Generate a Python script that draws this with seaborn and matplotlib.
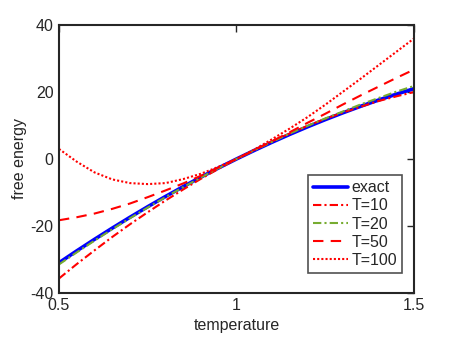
import numpy as np
import pandas as pd
import matplotlib
matplotlib.use('Agg')
import matplotlib.pyplot as plt
import seaborn as sns


# values, x step 0.05
temperature = [0.5, 0.55, 0.6, 0.65, 0.7, 0.75, 0.8, 0.85, 0.9, 0.95, 1.0,
               1.05, 1.1, 1.15, 1.2, 1.25, 1.3, 1.35, 1.4, 1.45, 1.5]

exact = [-31.0, -27.45, -24.0, -20.65, -17.4, -14.25, -11.2, -8.25, -5.4, -2.65, 0.0,
         2.55, 5.0, 7.35, 9.6, 11.75, 13.8, 15.75, 17.6, 19.35, 21.0]
t10 = [-35.7, -31.4, -27.3, -23.3, -19.5, -15.9, -12.4, -9.1, -5.9, -2.9, 0.0,
       2.7, 5.3, 7.6, 9.9, 12.0, 13.9, 15.6, 17.3, 18.7, 20.0]
t20 = [-31.5, -27.9, -24.4, -21.0, -17.7, -14.5, -11.4, -8.4, -5.5, -2.7, 0.0,
       2.6, 5.1, 7.6, 9.9, 12.1, 14.2, 16.3, 18.2, 20.1, 21.8]
t50 = [-18.3, -17.4, -16.3, -14.9, -13.3, -11.4, -9.4, -7.3, -5.0, -2.5, 0.0,
       2.6, 5.3, 8.0, 10.8, 13.5, 16.3, 19.0, 21.6, 24.2, 26.7]
t100 = [3.0, -0.8, -4.0, -6.1, -7.2, -7.5, -7.2, -6.0, -4.4, -2.3, 0.0,
        2.8, 5.9, 9.1, 12.5, 16.2, 20.1, 24.0, 28.0, 32.0, 36.0]

labels = ['exact', 'T=10', 'T=20', 'T=50', 'T=100']

sns.set_style('white')
plt.rcParams['font.family'] = ['Liberation Sans', 'DejaVu Sans']
plt.rcParams['axes.unicode_minus'] = False

fig = plt.figure(figsize=(4.57, 3.43), dpi=100)
ax = fig.add_axes([0.129, 0.146, 0.777, 0.781])

series = [
    (exact, dict(color='#0000ff', lw=2.6, ls='-')),
    (t10, dict(color='#ff0000', lw=1.5, ls=(0, (4, 1.5, 1, 1.5)))),
    (t20, dict(color='#77ac30', lw=1.5, ls=(0, (4, 1.5, 1, 1.5)))),
    (t50, dict(color='#ff0000', lw=1.5, ls=(0, (5, 3.5)))),
    (t100, dict(color='#ff0000', lw=1.5, ls=(0, (1, 1)))),
]
for (vals, st), lab in zip(series, labels):
    df = pd.DataFrame({'temperature': temperature, 'free energy': vals})
    sns.lineplot(data=df, x='temperature', y='free energy', ax=ax, label=lab,
                 color=st['color'], linewidth=st['lw'], linestyle=st['ls'])

ax.set_xlim(0.5, 1.5)
ax.set_ylim(-40, 40)
ax.set_xticks([0.5, 1, 1.5])
ax.set_xticklabels(['0.5', '1', '1.5'])
ax.set_yticks([-40, -20, 0, 20, 40])
ax.tick_params(direction='in', length=5, width=1, colors='#262626',
               labelsize=11.5, top=True, right=True, pad=4)
for s in ax.spines.values():
    s.set_visible(True)
    s.set_color('#262626')
    s.set_linewidth(1.5)
ax.set_xlabel('temperature', fontsize=11.5, color='#262626', labelpad=3)
ax.set_ylabel('free energy', fontsize=11.5, color='#262626', labelpad=2)

leg = ax.legend(loc='lower right', bbox_to_anchor=(0.966, 0.075), borderaxespad=0,
                fontsize=11.5, frameon=True, fancybox=False, handlelength=2.2,
                handletextpad=0.2, labelspacing=0.2, borderpad=0.3)
leg.get_frame().set_edgecolor('#262626')
leg.get_frame().set_linewidth(1.2)

fig.savefig('out.png', dpi=100)
